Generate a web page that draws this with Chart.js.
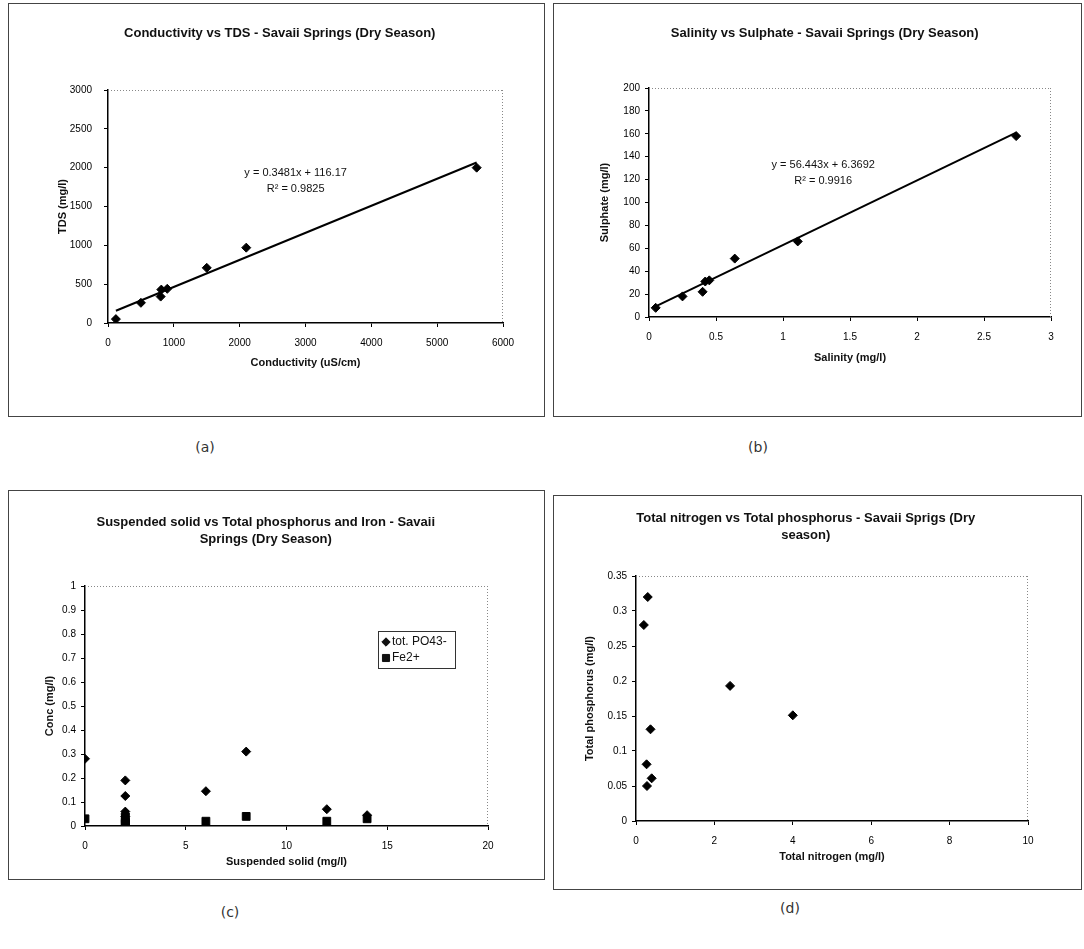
<!DOCTYPE html>
<html><head><meta charset="utf-8">
<script src="https://cdn.jsdelivr.net/npm/chart.js@4.4.1/dist/chart.umd.min.js"></script>
<style>
body{margin:0;background:#fff;width:1084px;height:949px;position:relative;overflow:hidden;font-family:'Liberation Sans',Arial,sans-serif}
.frame{position:absolute;border:1px solid #444;box-sizing:border-box}
canvas{position:absolute}
.cap{position:absolute;font-size:14px;color:#333;transform:translate(-50%,-50%);font-family:'DejaVu Sans','Liberation Sans',sans-serif;font-weight:normal}
</style></head><body>
<div class="frame" style="left:8px;top:3px;width:537px;height:414px"></div>
<div class="frame" style="left:553px;top:3px;width:529px;height:414px"></div>
<div class="frame" style="left:8px;top:490px;width:537px;height:390px"></div>
<div class="frame" style="left:553px;top:495px;width:529px;height:395px"></div>
<canvas id="ca"></canvas><canvas id="cb"></canvas><canvas id="cc"></canvas><canvas id="cd"></canvas>
<div class="cap" style="left:205px;top:447px">(a)</div>
<div class="cap" style="left:758px;top:447px">(b)</div>
<div class="cap" style="left:230px;top:912px">(c)</div>
<div class="cap" style="left:790px;top:908px">(d)</div>
<script>
// ---------- DATA ----------
// (a) Conductivity vs TDS
const condX = [120, 500, 800, 810, 900, 1500, 2100, 5600];
const tdsY = [50, 260, 340, 430, 440, 710, 970, 2000];
const condTrendX = [120, 5600];
const condTrendY = [158, 2066];
const condXTicks = [0, 1000, 2000, 3000, 4000, 5000, 6000];
const tdsYTicks = [0, 500, 1000, 1500, 2000, 2500, 3000];
const condEqn = ['y = 0.3481x + 116.17', 'R\u00B2 = 0.9825'];

// (b) Salinity vs Sulphate
const salX = [0.05, 0.25, 0.40, 0.42, 0.45, 0.64, 1.11, 2.74];
const sulY = [8, 18, 22, 31, 32, 51, 66, 158];
const salTrendX = [0.05, 2.74];
const salTrendY = [9.2, 161];
const salXTicks = [0, 0.5, 1, 1.5, 2, 2.5, 3];
const sulYTicks = [0, 20, 40, 60, 80, 100, 120, 140, 160, 180, 200];
const salEqn = ['y = 56.443x + 6.3692', 'R\u00B2 = 0.9916'];

// (c) Suspended solid vs Total phosphorus and Iron
const ssX = [0, 2, 2, 2, 2, 2, 6, 8, 12, 14];
const totPO4 = [0.28, 0.19, 0.125, 0.06, 0.05, 0.04, 0.145, 0.31, 0.07, 0.045];
const fe2 = [0.03, 0.03, 0.02, 0.015, 0.01, 0.01, 0.02, 0.04, 0.02, 0.03];
const ssXTicks = [0, 5, 10, 15, 20];
const concYTicks = [0, 0.1, 0.2, 0.3, 0.4, 0.5, 0.6, 0.7, 0.8, 0.9, 1];
const seriesNamesC = ['tot. PO43-', 'Fe2+'];

// (d) Total nitrogen vs Total phosphorus
const tnX = [0.2, 0.3, 2.4, 4.0, 0.37, 0.27, 0.4, 0.28];
const tpY = [0.28, 0.32, 0.193, 0.151, 0.131, 0.081, 0.061, 0.05];
const tnXTicks = [0, 2, 4, 6, 8, 10];
const tpYTicks = [0, 0.05, 0.1, 0.15, 0.2, 0.25, 0.3, 0.35];

// ---------- PLUGINS ----------
const FONT = "'Liberation Sans', Arial, sans-serif";
const plotBorder = {
  id: 'plotBorder',
  beforeDatasetsDraw(chart) {
    const ca = chart.chartArea, ctx = chart.ctx;
    ctx.save();
    ctx.strokeStyle = '#888'; ctx.lineWidth = 1; ctx.setLineDash([1, 2]);
    ctx.beginPath();
    ctx.moveTo(ca.left, ca.top + 0.5); ctx.lineTo(ca.right, ca.top + 0.5);
    ctx.moveTo(ca.right - 0.5, ca.top); ctx.lineTo(ca.right - 0.5, ca.bottom);
    ctx.stroke();
    ctx.restore();
  }
};
const eqnPlugin = {
  id: 'eqn',
  afterDatasetsDraw(chart, args, o) {
    if (!o || !o.lines) return;
    const ctx = chart.ctx;
    const px = chart.scales.x.getPixelForValue(o.x);
    const py = chart.scales.y.getPixelForValue(o.y);
    ctx.save();
    ctx.fillStyle = '#111'; ctx.font = '11px ' + FONT;
    ctx.textAlign = 'center'; ctx.textBaseline = 'middle';
    o.lines.forEach((t, i) => ctx.fillText(t, px, py + i * 16));
    ctx.restore();
  }
};
const boxLegend = {
  id: 'boxLegend',
  afterDatasetsDraw(chart, args, o) {
    if (!o || !o.show) return;
    const ca = chart.chartArea, ctx = chart.ctx;
    const bx = ca.left + o.dx, by = ca.top + o.dy;
    ctx.save();
    ctx.fillStyle = '#fff'; ctx.fillRect(bx, by, o.w, o.h);
    ctx.strokeStyle = '#333'; ctx.lineWidth = 1; ctx.setLineDash([]);
    ctx.strokeRect(bx + 0.5, by + 0.5, o.w, o.h);
    ctx.font = '12px ' + FONT; ctx.textBaseline = 'middle'; ctx.textAlign = 'left';
    chart.data.datasets.forEach((ds, i) => {
      const yy = by + 11 + i * 16;
      ctx.fillStyle = '#111'; ctx.strokeStyle = '#111';
      Chart.helpers.drawPoint(ctx, {pointStyle: ds.pointStyle, radius: ds.pointStyle === 'rect' ? 5 : 4.2, rotation: 0, borderWidth: 1}, bx + 8, yy);
      ctx.fillStyle = '#111';
      ctx.fillText(ds.label, bx + 14, yy);
    });
    ctx.restore();
  }
};

// ---------- BUILDER ----------
function build(id, fr, pr, cfg) {
  const cv = document.getElementById(id);
  const ox = fr.x + 1, oy = fr.y + 1, cw = fr.w - 2, ch = fr.h - 2;
  cv.width = cw; cv.height = ch;
  cv.style.left = ox + 'px'; cv.style.top = oy + 'px';
  const L = pr.l - ox, T = pr.t - oy, R = pr.r - ox, B = pr.b - oy;
  const lh = 17, alh = 13;
  const tTop = cfg.titleY - oy - lh / 2;
  const tBot = T - tTop - lh * cfg.title.length;
  const padL = cfg.yTitleX - ox - alh / 2;
  const xBottom = cfg.xTitleY - oy + alh / 2;
  const tickFont = {family: FONT, size: 10};
  const titleFont = {family: FONT, size: 11, weight: 'bold', lineHeight: alh / 11};
  const fmt = v => String(+Number(v).toFixed(4));
  const axisCommon = (ticksArr, min, max, text, pad) => ({
    type: 'linear', min: min, max: max,
    afterBuildTicks: s => { s.ticks = ticksArr.map(v => ({value: v})); },
    border: {display: true, color: '#000', width: 1.5},
    grid: {display: true, drawOnChartArea: false, drawTicks: true, tickLength: 4, color: '#000'},
    ticks: {padding: pad, color: '#000', font: tickFont, autoSkip: false, maxRotation: 0, callback: fmt},
    title: {display: true, text: text, color: '#111', font: titleFont, padding: 0}
  });
  const xs = axisCommon(cfg.xTicks, cfg.xTicks[0], cfg.xTicks[cfg.xTicks.length - 1], cfg.xTitle, 10);
  xs.afterFit = s => { s.height = xBottom - B; };
  const ys = axisCommon(cfg.yTicks, cfg.yTicks[0], cfg.yTicks[cfg.yTicks.length - 1], cfg.yTitle, cfg.yTickPad);
  ys.afterFit = s => { s.width = L - padL; };
  return new Chart(cv, {
    type: 'scatter',
    data: {datasets: cfg.datasets},
    options: {
      responsive: false, animation: false, devicePixelRatio: 1,
      layout: {autoPadding: false, padding: {left: padL, right: cw - R, top: 0, bottom: ch - xBottom}},
      plugins: {
        legend: {display: false}, tooltip: {enabled: false},
        title: {display: true, text: cfg.title, color: '#111',
          font: {family: FONT, size: 13, weight: 'bold', lineHeight: lh / 13},
          padding: {top: tTop, bottom: tBot}},
        eqn: cfg.eqn || {},
        boxLegend: cfg.legend || {}
      },
      scales: {x: xs, y: ys}
    },
    plugins: [plotBorder, eqnPlugin, boxLegend]
  });
}
const pts = (xs, ys) => xs.map((x, i) => ({x: x, y: ys[i]}));
const diamond = (label, xs, ys) => ({label: label, data: pts(xs, ys), pointStyle: 'rectRot', pointRadius: 4.5,
  backgroundColor: '#000', borderColor: '#000', borderWidth: 1, showLine: false});
const trend = (xs, ys) => ({label: 'trend', data: pts(xs, ys), showLine: true, pointRadius: 0,
  borderColor: '#000', borderWidth: 2, backgroundColor: '#000'});

build('ca', {x: 8, y: 3, w: 537, h: 414}, {l: 108, t: 90, r: 503, b: 323}, {
  title: ['Conductivity vs TDS - Savaii Springs (Dry Season)'], titleY: 33,
  yTitleX: 63, xTitleY: 363, yTickPad: 12,
  xTicks: condXTicks, yTicks: tdsYTicks,
  xTitle: 'Conductivity (uS/cm)', yTitle: 'TDS (mg/l)',
  datasets: [diamond('TDS', condX, tdsY), trend(condTrendX, condTrendY)],
  eqn: {lines: condEqn, x: 2850, y: 1930}
});
build('cb', {x: 553, y: 3, w: 529, h: 414}, {l: 649, t: 88, r: 1051, b: 317}, {
  title: ['Salinity vs Sulphate - Savaii Springs (Dry Season)'], titleY: 33,
  yTitleX: 605, xTitleY: 358, yTickPad: 5,
  xTicks: salXTicks, yTicks: sulYTicks,
  xTitle: 'Salinity (mg/l)', yTitle: 'Sulphate (mg/l)',
  datasets: [diamond('Sulphate', salX, sulY), trend(salTrendX, salTrendY)],
  eqn: {lines: salEqn, x: 1.3, y: 133}
});
build('cc', {x: 8, y: 490, w: 537, h: 390}, {l: 85, t: 586, r: 488, b: 826}, {
  title: ['Suspended solid vs Total phosphorus and Iron - Savaii', 'Springs (Dry Season)'], titleY: 522,
  yTitleX: 50, xTitleY: 862, yTickPad: 5,
  xTicks: ssXTicks, yTicks: concYTicks,
  xTitle: 'Suspended solid (mg/l)', yTitle: 'Conc (mg/l)',
  datasets: [diamond(seriesNamesC[0], ssX, totPO4),
    {label: seriesNamesC[1], data: pts(ssX, fe2), pointStyle: 'rect', pointRadius: 5.5,
      backgroundColor: '#000', borderColor: '#000', borderWidth: 1, showLine: false}],
  legend: {show: true, dx: 293, dy: 45, w: 77, h: 37}
});
build('cd', {x: 553, y: 495, w: 529, h: 395}, {l: 636, t: 576, r: 1028, b: 821}, {
  title: ['Total nitrogen vs Total phosphorus - Savaii Sprigs (Dry', 'season)'], titleY: 518,
  yTitleX: 590, xTitleY: 857, yTickPad: 5,
  xTicks: tnXTicks, yTicks: tpYTicks,
  xTitle: 'Total nitrogen (mg/l)', yTitle: 'Total phosphorus (mg/l)',
  datasets: [diamond('Total phosphorus', tnX, tpY)]
});
</script>
</body></html>
